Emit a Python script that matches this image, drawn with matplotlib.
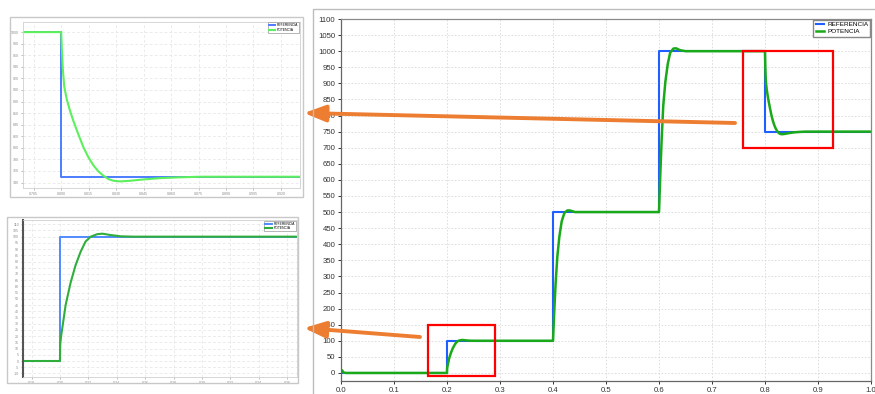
import matplotlib.pyplot as plt
import numpy as np
from matplotlib.patches import Rectangle

# --- DATA ---
# Power reference (step setpoints) and measured power response
REF_T = [0.0, 0.2, 0.4, 0.6, 0.8, 1.0]
REF_P = [0, 100, 500, 1000, 750, 750]

POT_T = [0.0, 0.002, 0.005, 0.01,
         0.2, 0.2002, 0.2008, 0.2016, 0.204, 0.2075, 0.211, 0.2146, 0.218, 0.2216,
         0.2263, 0.2298, 0.2357, 0.2427, 0.252,
         0.4, 0.4025, 0.405, 0.4082, 0.412, 0.4164, 0.4214, 0.427, 0.432,
         0.4415, 0.457,
         0.6, 0.6025, 0.605, 0.608, 0.612, 0.6165, 0.621, 0.627, 0.632,
         0.64, 0.65,
         0.8, 0.80036, 0.80091, 0.80164, 0.80309, 0.80491, 0.80673, 0.80945,
         0.81218, 0.8149, 0.81764, 0.82036, 0.82309, 0.82582, 0.82855, 0.83218,
         0.83764, 0.8449, 0.854, 0.8631, 0.8758, 1.0]
POT_P = [10, 8, 1, 0,
         0, 13, 20, 26, 45, 63, 77, 88, 96, 100,
         102, 102.4, 101.3, 100.3, 100,
         100, 197, 280, 362, 424, 471, 497, 505, 505,
         500, 500,
         500, 620, 725, 830, 905, 960, 995, 1008, 1009,
         1003, 1000,
         1000, 969.5, 935, 906, 883, 863, 845.6, 822.5,
         800.6, 783.3, 769.5, 759.1, 751.7, 745.9, 743, 741.9,
         743, 745.3, 747.6, 748.8, 750, 750]

LABELS = ['REFERENCIA', 'POTENCIA']

MAIN_YTICKS = np.arange(0, 1101, 50)
MAIN_XTICKS = np.arange(0, 1.01, 0.1)
TOP_YTICKS = np.arange(740, 1001, 20)
TOP_XTICKS = [0.785 + 0.015 * k for k in range(10)]
BOT_YTICKS = np.arange(-10, 111, 5)
BOT_XTICKS = [0.18 + 0.02 * k for k in range(10)]

W, H = 875, 394
ORANGE = '#ed7d31'

plt.rcParams['font.family'] = ['Liberation Sans', 'DejaVu Sans']

fig = plt.figure(figsize=(W / 100, H / 100), dpi=100)


def px_axes(x0, y0, x1, y1):
    # pixel box (top-left origin) -> figure axes
    return fig.add_axes([x0 / W, (H - y1) / H, (x1 - x0) / W, (y1 - y0) / H])


def px_frame(x0, y0, x1, y1, color='#c8c8c8', lw=1.0):
    fig.add_artist(Rectangle((x0 / W, (H - y1) / H), (x1 - x0) / W, (y1 - y0) / H,
                             transform=fig.transFigure, fill=False,
                             edgecolor=color, lw=lw))


def style_inset(ax, xticks, yticks, fmt_x, fmt_y, left_color):
    ax.set_xticks(xticks)
    ax.set_yticks(yticks)
    ax.set_xticklabels([fmt_x % v for v in xticks])
    ax.set_yticklabels([fmt_y % v for v in yticks])
    ax.tick_params(labelsize=2.6, colors='#8c8c8c', length=1.5, width=0.4, pad=1.5)
    ax.grid(True, color='#e3e3e3', lw=0.5, ls=(0, (4, 3)))
    for s in ax.spines.values():
        s.set_color('#d0d0d0')
        s.set_linewidth(0.6)
    ax.spines['left'].set_color(left_color)
    leg = ax.legend(LABELS, loc='upper right', fontsize=2.4, handlelength=2.0,
                    borderpad=0.3, labelspacing=0.2, handletextpad=0.5,
                    fancybox=False, framealpha=1, borderaxespad=0.2)
    leg.get_frame().set_edgecolor('#999999')
    leg.get_frame().set_linewidth(0.5)


# --- top inset: 1000 -> 750 step ---
px_frame(10, 17, 303, 197)
ax1 = px_axes(23.3, 21.7, 300, 188.3)
ax1.step(REF_T, REF_P, where='post', color='#4c7dff', lw=1.4)
ax1.plot(POT_T, POT_P, color='#5cf05c', lw=1.5)
ax1.set_xlim(0.7793, 0.9304)
ax1.set_ylim(730, 1018)
style_inset(ax1, TOP_XTICKS, TOP_YTICKS, '%.3f', '%d', '#d0d0d0')

# --- bottom inset: 0 -> 100 step ---
px_frame(7, 217, 298, 383)
ax2 = px_axes(23.3, 220, 296.7, 377.3)
ax2.step(REF_T, REF_P, where='post', color='#4f8bff', lw=1.4)
ax2.plot(POT_T, POT_P, color='#2fae3c', lw=1.5)
ax2.set_xlim(0.1742, 0.3667)
ax2.set_ylim(-13.1, 113.4)
style_inset(ax2, BOT_XTICKS, BOT_YTICKS, '%.2f', '%d', '#555555')
ax2.spines['left'].set_linewidth(1.5)

# --- main chart ---
px_frame(313, 9, 890, 400, color='#bdbdbd', lw=1.0)
ax = px_axes(341, 19, 871, 381)
ax.step(REF_T, REF_P, where='post', color='#1f5fff', lw=1.5, label=LABELS[0])
ax.plot(POT_T, POT_P, color='#19a919', lw=1.8, label=LABELS[1])
ax.set_xlim(0, 1.0)
ax.set_ylim(-25, 1100)
ax.set_xticks(MAIN_XTICKS)
ax.set_yticks(MAIN_YTICKS)
ax.set_xticklabels(['%.1f' % v for v in MAIN_XTICKS])
ax.set_yticklabels(['%d' % v for v in MAIN_YTICKS])
ax.tick_params(labelsize=5.6, colors='#333333', length=2.5, width=0.7, pad=1.5)
ax.grid(True, color='#d9d9d9', lw=0.6, ls=(0, (2, 2)))
for s in ax.spines.values():
    s.set_color('#8a8a8a')
    s.set_linewidth(0.9)
ax.spines['left'].set_color('#666666')
ax.spines['bottom'].set_color('#666666')
leg = ax.legend(loc='upper right', fontsize=4.6, handlelength=1.3, borderpad=0.35,
                labelspacing=0.25, handletextpad=0.5, fancybox=False,
                framealpha=1, borderaxespad=0.1)
leg.get_frame().set_edgecolor('#888888')
leg.get_frame().set_linewidth(1.0)

# zoomed regions
for (x0, y0, w, h) in [(0.165, -10, 0.125, 160), (0.758, 700, 0.17, 300)]:
    ax.add_patch(Rectangle((x0, y0), w, h, fill=False, edgecolor='#ff0000',
                           lw=1.6, zorder=5, clip_on=False))

# arrows pointing to the insets
for tail, tip in [((735, 123), (304, 113)), ((420, 337), (304, 328))]:
    ax.annotate('', xy=(tip[0], H - tip[1]), xytext=(tail[0], H - tail[1]),
                xycoords='figure pixels', textcoords='figure pixels',
                arrowprops=dict(arrowstyle='-|>,head_length=0.65,head_width=0.25',
                                mutation_scale=20, color=ORANGE, lw=2.8,
                                shrinkA=0, shrinkB=0), zorder=10)

fig.savefig('out.png', dpi=100)
